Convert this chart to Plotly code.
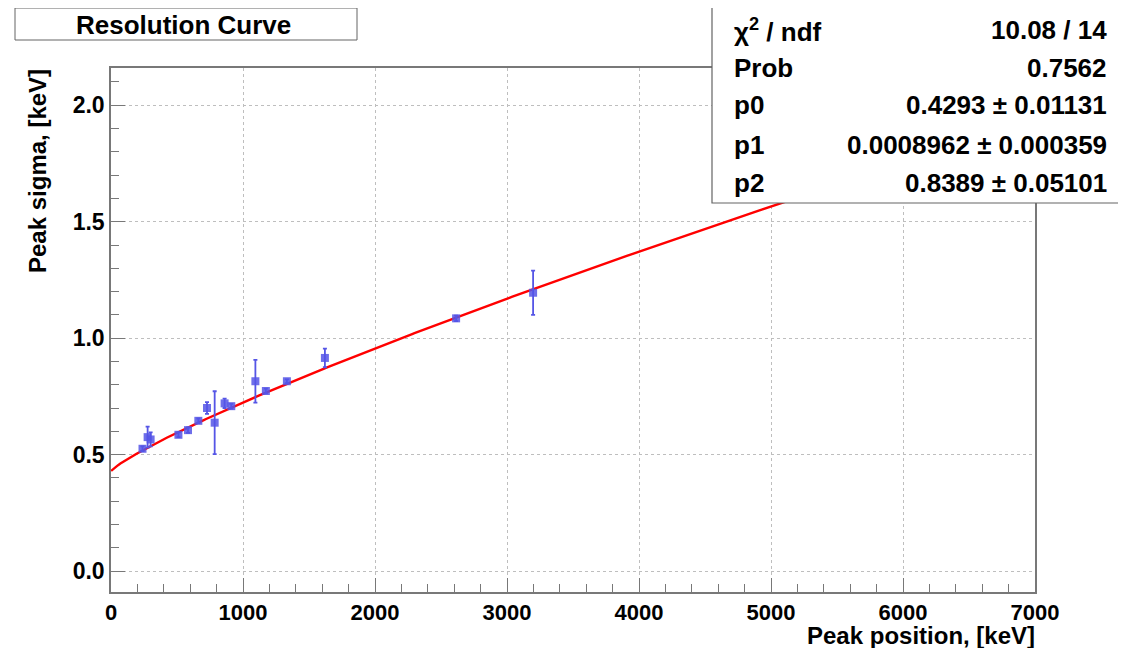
import numpy as np
import plotly.graph_objects as go

# Data
energy = [238.6, 277.4, 300.1, 510.8, 583.2, 661.7, 727.3, 785.4, 860.6, 911.2,
          1093.9, 1173.2, 1332.5, 1620.5, 2614.5, 3197.7]
sigma = [0.525, 0.575, 0.565, 0.585, 0.605, 0.645, 0.700, 0.637, 0.720, 0.708,
         0.815, 0.773, 0.815, 0.915, 1.085, 1.195]
sigma_err = [0.010, 0.045, 0.030, 0.010, 0.012, 0.010, 0.025, 0.135, 0.020, 0.010,
             0.092, 0.010, 0.008, 0.040, 0.012, 0.095]

# Fit parameters (from stats box): f = p0 + p1 * E^p2
p0, p1, p2 = 0.4293, 0.0008962, 0.8389
stats_labels = ["χ<sup>2</sup> / ndf", "Prob", "p0", "p1", "p2"]
stats_values = ["10.08 / 14", "0.7562", "0.4293 ± 0.01131",
                "0.0008962 ± 0.000359", "0.8389 ± 0.05101"]

x_ticks = [0, 1000, 2000, 3000, 4000, 5000, 6000, 7000]
y_ticks = [0.0, 0.5, 1.0, 1.5, 2.0]

# the page body has an 8px default margin; work in window pixels and shift
OFF = 8
W, H = 1126 - OFF, 648 - OFF
L, R, T, B = 111 - OFF, 1035 - OFF, 68 - OFF, 592 - OFF

def px(xp):
    return (xp - OFF - L) / (R - L)

def py(yp):
    return (B - (yp - OFF)) / (B - T)

FONT = "Liberation Sans, Arial, Helvetica, sans-serif"
blue = "rgb(85,85,230)"
gray = "rgb(120,120,120)"

e_fit = np.linspace(1, 7000, 400)
f_fit = p0 + p1 * e_fit ** p2

fig = go.Figure()
fig.add_trace(go.Scatter(x=e_fit, y=f_fit, mode="lines",
                         line=dict(color="rgb(255,0,0)", width=2.4),
                         hoverinfo="skip", showlegend=False))
fig.add_trace(go.Scatter(x=energy, y=sigma, mode="markers",
                         marker=dict(symbol="square", size=8, color=blue, opacity=0.85),
                         error_y=dict(type="data", array=sigma_err, color=blue,
                                      thickness=1.8, width=2),
                         showlegend=False))

axis_common = dict(
    showline=True, mirror=True, linecolor=gray, linewidth=1.5,
    ticks="inside", ticklen=14, tickcolor=gray, tickwidth=1.2,
    showgrid=True, gridcolor="rgb(190,190,190)", griddash="dot", gridwidth=1,
    zeroline=False,
)

fig.update_xaxes(range=[0, 7000], tickvals=x_ticks,
                 ticktext=[str(v) for v in x_ticks],
                 tickfont=dict(family=FONT, size=22, color="black", weight="bold"),
                 minor=dict(dtick=200, ticks="inside", ticklen=8,
                            tickcolor=gray, showgrid=False),
                 **axis_common)
fig.update_yaxes(range=[-0.09, 2.16], tickvals=y_ticks,
                 ticktext=[f"{v:.1f}" for v in y_ticks],
                 tickfont=dict(family=FONT, size=23, color="black", weight="bold"),
                 minor=dict(dtick=0.1, ticks="inside", ticklen=8,
                            tickcolor=gray, showgrid=False),
                 **axis_common)

shapes = []
annotations = []

# Title box
shapes.append(dict(type="rect", xref="paper", yref="paper",
                   x0=px(15), x1=px(357), y0=py(40), y1=py(8),
                   line=dict(color="rgb(100,100,100)", width=1), fillcolor="white"))
annotations.append(dict(xref="paper", yref="paper", x=px(183), y=py(25),
                        text="Resolution Curve", showarrow=False,
                        xanchor="center", yanchor="middle",
                        font=dict(family=FONT, size=26, color="black", weight="bold")))

# Stats box
shapes.append(dict(type="rect", xref="paper", yref="paper",
                   x0=px(712), x1=px(1122), y0=py(203), y1=py(5),
                   line=dict(color="rgb(100,100,100)", width=1.2), fillcolor="white",
                   layer="above"))
row_y = [30, 68, 105, 145, 183]
for lab, val, yy in zip(stats_labels, stats_values, row_y):
    annotations.append(dict(xref="paper", yref="paper", x=px(732), y=py(yy),
                            text=lab, showarrow=False, xanchor="left", yanchor="middle",
                            font=dict(family=FONT, size=26, color="black", weight="bold")))
    annotations.append(dict(xref="paper", yref="paper", x=px(1109), y=py(yy),
                            text=val, showarrow=False, xanchor="right", yanchor="middle",
                            font=dict(family=FONT, size=26, color="black", weight="bold")))

# Axis titles
annotations.append(dict(xref="paper", yref="paper", x=px(1037), y=py(635),
                        text="Peak position, [keV]", showarrow=False,
                        xanchor="right", yanchor="middle",
                        font=dict(family=FONT, size=24, color="black", weight="bold")))
annotations.append(dict(xref="paper", yref="paper", x=px(38), y=py(67),
                        text="Peak sigma, [keV]", showarrow=False, textangle=-90,
                        xanchor="center", yanchor="top",
                        font=dict(family=FONT, size=24, color="black", weight="bold")))

fig.update_layout(
    width=W, height=H,
    margin=dict(l=L, r=W - R, t=T, b=H - B),
    paper_bgcolor="white", plot_bgcolor="white",
    shapes=shapes, annotations=annotations,
    showlegend=False,
)

fig.write_html("out.html")
